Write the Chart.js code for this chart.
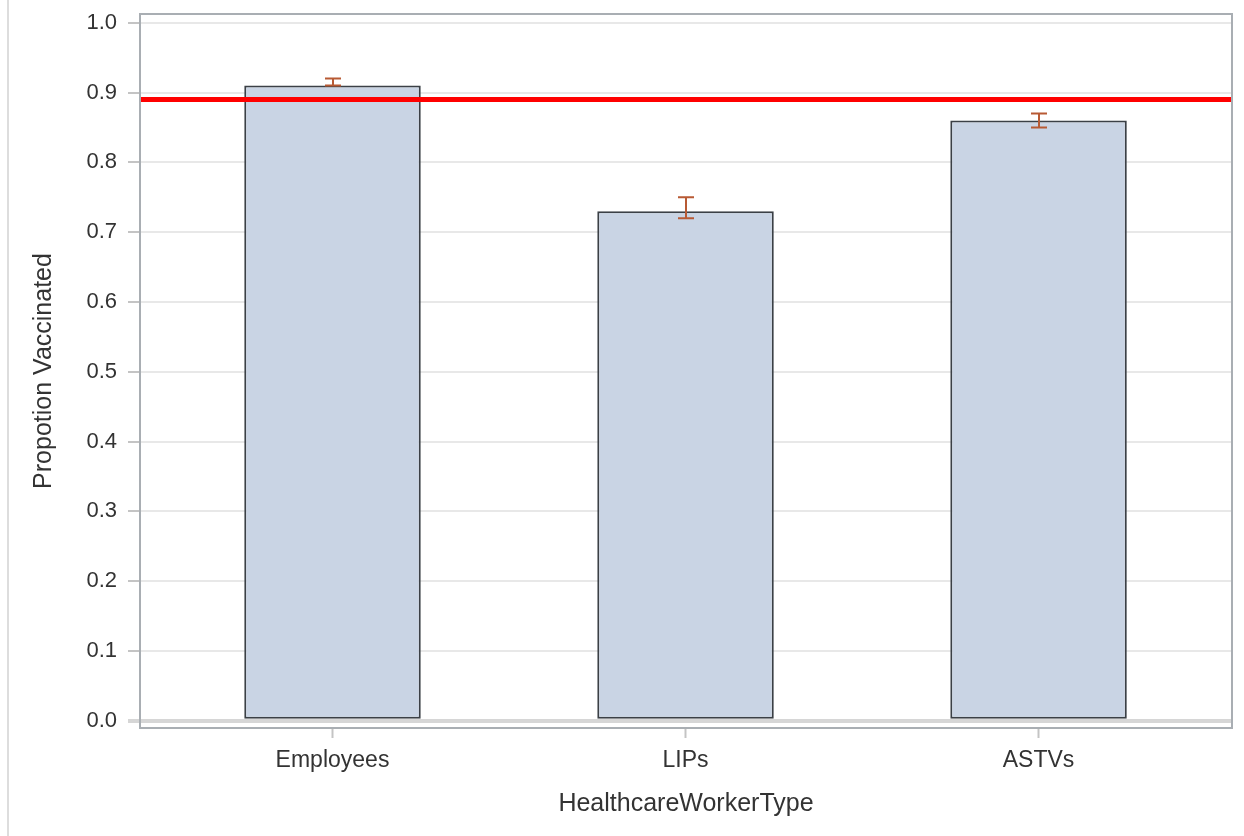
<!DOCTYPE html>
<html>
<head>
<meta charset="utf-8">
<script src="https://cdn.jsdelivr.net/npm/chart.js@4.4.1/dist/chart.umd.min.js"></script>
<style>
  html, body { margin: 0; padding: 0; background: #fff; }
  #wrap { position: relative; width: 1244px; height: 836px; }
  #edge { position: absolute; left: 7px; top: 0; width: 2px; height: 836px; background: #dddddd; }
  #chart { position: absolute; left: 0; top: 0; }
</style>
</head>
<body>
<div id="wrap">
  <div id="edge"></div>
  <canvas id="chart" width="1244" height="836"></canvas>
</div>
<script>
// Data
const categories = ['Employees', 'LIPs', 'ASTVs'];
const proportions = [0.91, 0.73, 0.86];
const lowerLimits = [0.91, 0.72, 0.85];
const upperLimits = [0.92, 0.75, 0.87];
const targetLine = 0.89;
const yTicks = [0, 0.1, 0.2, 0.3, 0.4, 0.5, 0.6, 0.7, 0.8, 0.9, 1.0];

const FONT = "'Liberation Sans', Arial, sans-serif";

// red reference line + error bars, drawn on top of the bars
const overlays = {
    id: 'overlays',
    afterDatasetsDraw(chart) {
        const ctx = chart.ctx;
        const x = chart.scales.x, y = chart.scales.y;
        const area = chart.chartArea;
        ctx.save();
        // target line
        const ty = y.getPixelForValue(targetLine);
        ctx.strokeStyle = '#ff0000';
        ctx.lineWidth = 5;
        ctx.beginPath();
        ctx.moveTo(area.left, ty);
        ctx.lineTo(area.right, ty);
        ctx.stroke();
        // error bars
        ctx.strokeStyle = '#b85a34';
        ctx.lineWidth = 2;
        categories.forEach((c, i) => {
            const cx = Math.round(x.getPixelForValue(i));
            const lo = y.getPixelForValue(lowerLimits[i]);
            const hi = y.getPixelForValue(upperLimits[i]);
            const cap = 8;
            ctx.beginPath();
            ctx.moveTo(cx, lo); ctx.lineTo(cx, hi);
            ctx.moveTo(cx - cap, hi); ctx.lineTo(cx + cap, hi);
            ctx.moveTo(cx - cap, lo); ctx.lineTo(cx + cap, lo);
            ctx.stroke();
        });
        ctx.restore();
    },
    afterDraw(chart) {
        // frame round the plot area
        const ctx = chart.ctx;
        const a = chart.chartArea;
        ctx.save();
        ctx.strokeStyle = '#a9aeb3';
        ctx.lineWidth = 2;
        ctx.strokeRect(a.left, a.top, a.right - a.left, a.bottom - a.top);
        ctx.restore();
    }
};

const chart = new Chart(document.getElementById('chart'), {
    type: 'bar',
    data: {
        datasets: [{
            label: 'Propotion Vaccinated',
            data: proportions.map((v, i) => ({ x: i, y: v })),
            backgroundColor: '#c9d4e4',
            borderColor: '#3b4046',
            borderWidth: 2,
            borderSkipped: false,
            barPercentage: 0.5,
            categoryPercentage: 1.0
        }]
    },
    options: {
        responsive: false,
        animation: false,
        layout: { padding: { left: 0, right: 12, top: 14, bottom: 0 } },
        plugins: {
            legend: { display: false },
            tooltip: { enabled: false }
        },
        scales: {
            x: {
                type: 'linear',
                offset: false,
                min: -0.5453,
                max: 2.548,
                afterBuildTicks: (scale) => {
                    scale.ticks = categories.map((c, i) => ({ value: i }));
                },
                afterFit: (scale) => { scale.height = 108; },
                border: { display: false },
                grid: {
                    offset: false,
                    drawOnChartArea: false,
                    drawTicks: true,
                    tickLength: 10,
                    tickColor: '#c4c4c4',
                    tickWidth: 2
                },
                ticks: {
                    padding: 9,
                    color: '#333333',
                    font: { family: FONT, size: 23 },
                    maxRotation: 0,
                    callback: (v) => categories[v]
                },
                title: {
                    display: true,
                    text: 'HealthcareWorkerType',
                    color: '#333333',
                    font: { family: FONT, size: 25 },
                    padding: { top: 0, bottom: 17 }
                }
            },
            y: {
                min: -0.0104,
                max: 1.0125,
                afterBuildTicks: (scale) => {
                    scale.ticks = yTicks.map(v => ({ value: v }));
                },
                afterFit: (scale) => {
                    scale.width = 140;
                    // labels fit inside the frame, no extra room needed
                    scale.paddingTop = 0;
                    scale.paddingBottom = 0;
                },
                border: { display: false },
                grid: {
                    color: (c) => c.tick && c.tick.value === 0 ? '#d6d6d6' : '#e8e8e8',
                    lineWidth: (c) => c.tick && c.tick.value === 0 ? 4 : 2,
                    tickLength: 12,
                    tickColor: (c) => c.tick && c.tick.value === 0 ? '#d6d6d6' : '#c4c4c4',
                    tickWidth: (c) => c.tick && c.tick.value === 0 ? 4 : 2
                },
                ticks: {
                    padding: 11,
                    color: '#333333',
                    font: { family: FONT, size: 22 },
                    callback: (v) => v.toFixed(1)
                },
                title: {
                    display: true,
                    text: 'Propotion Vaccinated',
                    color: '#333333',
                    font: { family: FONT, size: 25 },
                    padding: { top: 29, bottom: 0 }
                }
            }
        }
    },
    plugins: [overlays]
});
</script>
</body>
</html>
